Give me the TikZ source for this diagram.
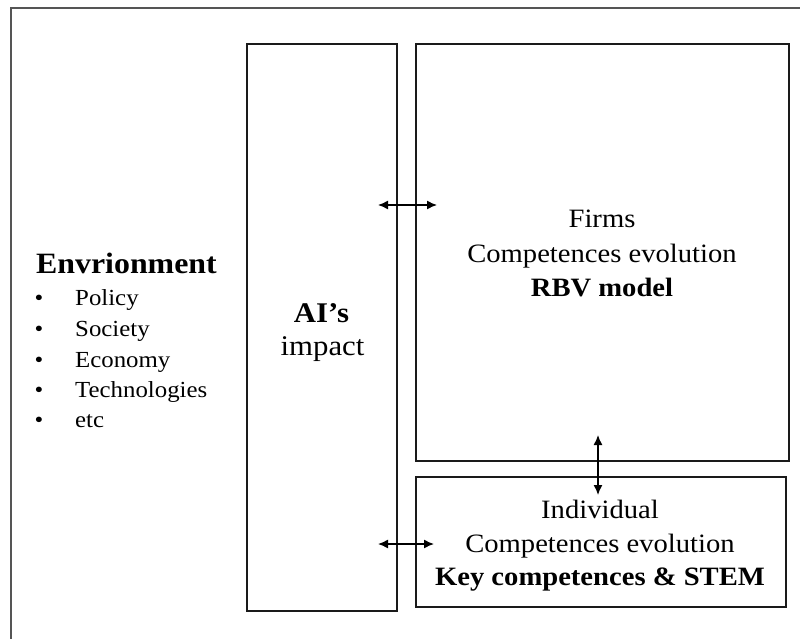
\documentclass[tikz,border=0pt]{standalone}
\usepackage{fontspec}
\setmainfont{Liberation Serif}[FakeStretch=1.08]
\usetikzlibrary{arrows.meta}
\definecolor{framegray}{HTML}{555555}
\definecolor{boxline}{HTML}{1A1A1A}
\begin{document}
\begin{tikzpicture}[x=1pt,y=-1pt,
  frameline/.style={draw=framegray,line width=2pt},
  box/.style={draw=boxline,line width=1.4pt,inner sep=0pt,outer sep=0pt},
  link/.style={line width=1.4pt,{Latex[length=10pt,width=9pt]}-{Latex[length=10pt,width=9pt]}},
  txt/.style={inner sep=0pt,anchor=base,font=\fontsize{26.5}{31}\selectfont},
  btxt/.style={txt,font=\fontsize{26.5}{31}\selectfont\bfseries},
  envtitle/.style={inner sep=0pt,anchor=base west,font=\fontsize{29.5}{34}\selectfont\bfseries},
  envitem/.style={inner sep=0pt,anchor=base west,font=\fontsize{23}{27}\selectfont},
  envbullet/.style={inner sep=0pt,anchor=base,font=\fontsize{23}{27}\selectfont},
  aitxt/.style={inner sep=0pt,anchor=base,font=\fontsize{28.5}{33}\selectfont}]
\useasboundingbox (0,0) rectangle (800,639);
% outer frame (cut by the page edge)
\draw[frameline] (11,660) -- (11,8) -- (820,8);
% boxes
\node[box,minimum width=150,minimum height=567] (ai) at (322,327.5) {};
\node[box,minimum width=373,minimum height=417] (firms) at (602.5,252.5) {};
\node[box,minimum width=370,minimum height=130] (indiv) at (601,542) {};
% environment list
\node[envtitle] (envt) at (36,273) {Envrionment};
\foreach \y/\w [count=\i] in {305/Policy,336/Society,367/Economy,397/Technologies,427/etc}{
  \node[envbullet] (b\i) at (39,\y) {•};
  \node[envitem] (e\i) at (75,\y) {\w};
}
% AI's impact
\node[aitxt,font=\fontsize{28.5}{33}\selectfont\bfseries] (ai1) at (321.5,322) {AI’s};
\node[aitxt] (ai2) at (322.5,355) {impact};
% firms text
\node[txt] (f1) at (602,227) {Firms};
\node[txt] (f2) at (602,262) {Competences evolution};
\node[btxt] (f3) at (602,296) {RBV model};
% individual text
\node[txt] (i1) at (600,518) {Individual};
\node[txt] (i2) at (600,552) {Competences evolution};
\node[btxt] (i3) at (600,585) {Key competences \& STEM};
% arrow end points
\coordinate (ta) at (378,205);
\coordinate (tb) at (437,205);
\coordinate (ba) at (378,544);
\coordinate (bb) at (434,544);
\coordinate (va) at (598,435);
\coordinate (vb) at (598,495);
\draw[link] (ta) -- (tb);
\draw[link] (ba) -- (bb);
\draw[link] (va) -- (vb);
\end{tikzpicture}
\end{document}
